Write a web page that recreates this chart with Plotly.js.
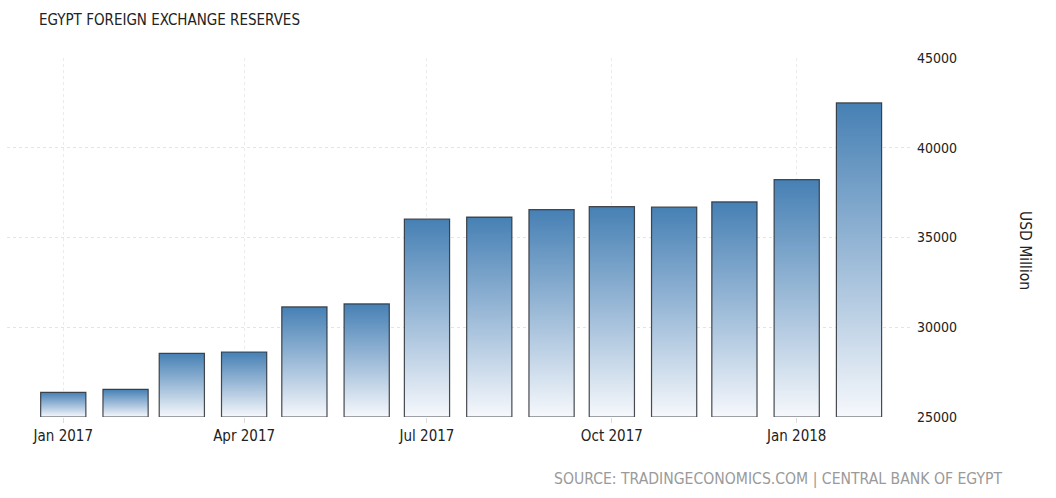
<!DOCTYPE html>
<html>
<head>
<meta charset="utf-8">
<script src="https://cdn.plot.ly/plotly-3.0.1.min.js"></script>
<style>
  html, body { margin: 0; padding: 0; background: #fff; }
  #chart { width: 1056px; height: 498px; }
</style>
</head>
<body>
<div id="chart"></div>
<script>
// monthly reserves, USD million
const months = ['2017-01-01', '2017-02-01', '2017-03-01', '2017-04-01', '2017-05-01', '2017-06-01',
    '2017-07-01', '2017-08-01', '2017-09-01', '2017-10-01', '2017-11-01', '2017-12-01',
    '2018-01-01', '2018-02-01'];
const reserves = [26370, 26540, 28540, 28620, 31130, 31300,
    36030, 36140, 36550, 36720, 36700, 36980,
    38220, 42500];
const yTicks = [25000, 30000, 35000, 40000, 45000];

const yMin = 25000;
const dayMs = 86400000;
const font = 'DejaVu Sans Condensed, DejaVu Sans, sans-serif';

let trace = {
    type: 'bar',
    x: months,
    base: yMin,
    y: reserves.map(v => v - yMin),
    width: 22.5 * dayMs,
    marker: {
        color: '#8fb1d2',
        line: { color: 'rgba(40,45,50,0.85)', width: 1.2 }
    },
    hoverinfo: 'none'
};

let layout = {
    width: 1056,
    height: 498,
    margin: { l: 7, r: 144, t: 58, b: 81 },
    paper_bgcolor: '#fff',
    plot_bgcolor: '#fff',
    showlegend: false,
    font: { family: font, size: 14, color: '#333' },
    xaxis: {
        type: 'date',
        range: ['2016-12-04', '2018-02-27 09:00'],
        tick0: '2017-01-01',
        dtick: 'M3',
        tickformat: '%b %Y',
        ticks: 'outside',
        ticklen: 5,
        tickcolor: '#dddddd',
        showgrid: true,
        gridcolor: '#ebebeb',
        griddash: 'dot',
        showline: false,
        zeroline: false,
        tickfont: { family: font, size: 15, color: '#222' }
    },
    yaxis: {
        side: 'right',
        range: [yMin, 45000],
        tickvals: yTicks,
        ticktext: yTicks.map(String),
        ticks: '',
        ticklabelstandoff: 4,
        showgrid: true,
        gridcolor: '#e4e4e4',
        griddash: 'dot',
        showline: false,
        zeroline: false,
        tickfont: { family: font, size: 14, color: '#222' }
    },
    annotations: [
        {
            text: 'EGYPT FOREIGN EXCHANGE RESERVES',
            xref: 'paper', yref: 'paper',
            x: 30 / 905, y: 1 + 38 / 359,
            xanchor: 'left', yanchor: 'middle',
            showarrow: false,
            font: { family: font, size: 15, color: '#222' }
        },
        {
            text: 'USD Million',
            xref: 'paper', yref: 'paper',
            x: (1025 - 7) / 905, y: (417 - 250) / 359,
            xanchor: 'center', yanchor: 'middle',
            textangle: 90,
            showarrow: false,
            font: { family: font, size: 15.5, color: '#222' }
        },
        {
            text: 'SOURCE: TRADINGECONOMICS.COM | CENTRAL BANK OF EGYPT',
            xref: 'paper', yref: 'paper',
            x: (1004 - 7) / 905, y: -(479 - 417) / 359,
            xanchor: 'right', yanchor: 'middle',
            showarrow: false,
            font: { family: font, size: 15.6, color: '#9a9a9a' }
        }
    ]
};

Plotly.newPlot('chart', [trace], layout, { staticPlot: true, displayModeBar: false }).then(gd => {
    // vertical gradient on each bar, dark at top to almost white at the bottom
    const svg = gd.querySelector('.main-svg');
    const ns = 'http://www.w3.org/2000/svg';
    let defs = svg.querySelector('defs');
    let grad = document.createElementNS(ns, 'linearGradient');
    grad.setAttribute('id', 'barGrad');
    grad.setAttribute('x1', '0'); grad.setAttribute('y1', '0');
    grad.setAttribute('x2', '0'); grad.setAttribute('y2', '1');
    [['0', '#4680b4'], ['0.5', '#9dbbd8'], ['1', '#f6f8fc']].forEach(s => {
        let stop = document.createElementNS(ns, 'stop');
        stop.setAttribute('offset', s[0]);
        stop.setAttribute('stop-color', s[1]);
        grad.appendChild(stop);
    });
    defs.appendChild(grad);
    gd.querySelectorAll('.bars .point path').forEach(p => {
        p.style.fill = 'url(#barGrad)';
        p.style.fillOpacity = 1;
    });
});
</script>
</body>
</html>
